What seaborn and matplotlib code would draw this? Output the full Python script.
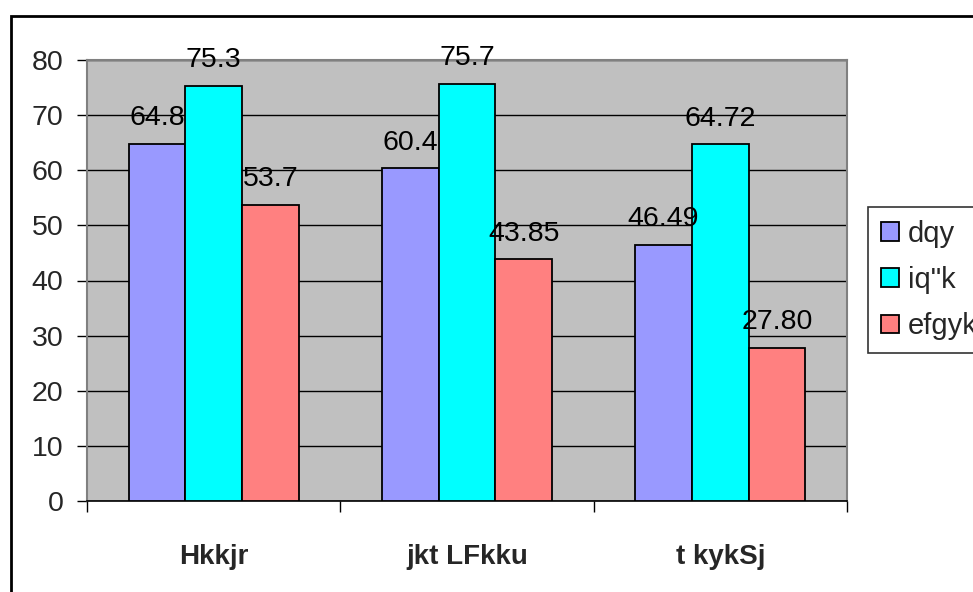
import matplotlib
matplotlib.use("Agg")
import matplotlib.pyplot as plt
from matplotlib.patches import Rectangle
import seaborn as sns
import pandas as pd

# Region names and series names (Kruti Dev encoded Hindi, rendered in a Latin font)
regions = ["Hkkjr", "jkt LFkku", "t kykSj"]
series = ["dqy", "iq\"k", "efgyk"]

# Percentages per series, in region order
total = [64.8, 60.4, 46.49]
male = [75.3, 75.7, 64.72]
female = [53.7, 43.85, 27.80]

# Value label text per series
total_labels = ["64.8", "60.4", "46.49"]
male_labels = ["75.3", "75.7", "64.72"]
female_labels = ["53.7", "43.85", "27.80"]

colors = ["#9999FF", "#00FFFF", "#FF8080"]
yticks = [0, 10, 20, 30, 40, 50, 60, 70, 80]

rows = []
for s, vals in zip(series, [total, male, female]):
    for r, v in zip(regions, vals):
        rows.append({"region": r, "series": s, "value": v})
df = pd.DataFrame(rows)

sns.set_style("white")
plt.rcParams["font.family"] = ["Liberation Sans", "DejaVu Sans"]

fig = plt.figure(figsize=(9.73, 5.92), dpi=100)
ax = fig.add_axes([87 / 973, 1 - 501 / 592, (847 - 87) / 973, (501 - 60) / 592])
ax.set_facecolor("#C0C0C0")

sns.barplot(data=df, x="region", y="value", hue="series", order=regions,
            hue_order=series, palette=colors, width=0.672, gap=0,
            edgecolor="black", linewidth=1.3, saturation=1, errorbar=None,
            ax=ax, zorder=3)

for cont, labs in zip(ax.containers, [total_labels, male_labels, female_labels]):
    ax.bar_label(cont, labels=labs, padding=9, fontsize=20.5, color="black")

ax.set_xlim(-0.5, 2.5)
ax.set_ylim(0, 80)
ax.set_yticks(yticks)
ax.set_yticklabels([str(t) for t in yticks], fontsize=20.5)
ax.yaxis.grid(True, color="black", linewidth=1.0)
ax.set_axisbelow(True)

# Category separators as major ticks, names as minor tick labels
ax.set_xticks([-0.5, 0.5, 1.5, 2.5])
ax.set_xticklabels([])
ax.set_xticks([0, 1, 2], minor=True)
ax.set_xticklabels(regions, minor=True, fontsize=20, fontweight="bold")
ax.tick_params(axis="x", which="major", length=8, width=1, color="black",
               direction="out", bottom=True)
ax.tick_params(axis="x", which="minor", length=0, pad=31)
ax.tick_params(axis="y", length=7, width=1, color="black", direction="out",
               left=True, pad=10)

ax.set_xlabel("")
ax.set_ylabel("")
for side in ["left", "top", "right"]:
    ax.spines[side].set_color("#808080")
    ax.spines[side].set_linewidth(1.5)
ax.spines["bottom"].set_color("black")
ax.spines["bottom"].set_linewidth(1.2)

handles, labels = ax.get_legend_handles_labels()
if ax.legend_:
    ax.legend_.remove()
leg = fig.legend(handles, labels, loc="upper left",
                 bbox_to_anchor=(868 / 973, 1 - 207 / 592),
                 bbox_transform=fig.transFigure, fontsize=21,
                 frameon=True, fancybox=False, edgecolor="black",
                 handlelength=0.62, handleheight=0.62, handletextpad=0.3,
                 labelspacing=0.62, borderpad=0.45, borderaxespad=0)
leg.get_frame().set_linewidth(1.2)

# Outer chart frame
fig.patches.append(Rectangle((11 / 973, -0.1), 1.2, 1 - 16 / 592 + 0.1,
                             transform=fig.transFigure, fill=False,
                             edgecolor="black", linewidth=2, zorder=0))

fig.savefig("out.png", dpi=100, facecolor="white")
